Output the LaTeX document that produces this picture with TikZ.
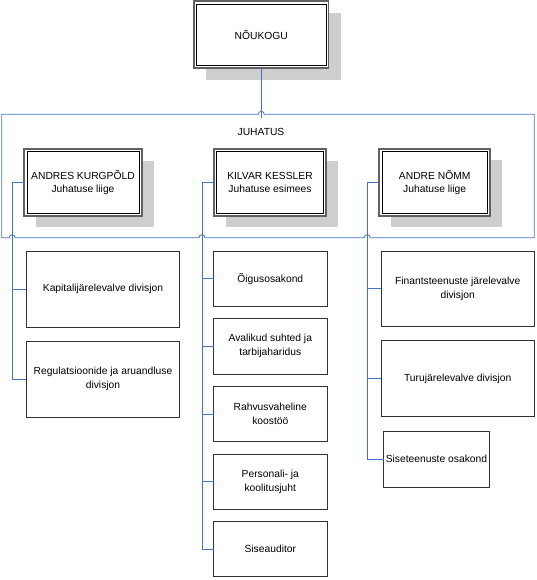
\documentclass[tikz,border=0pt]{standalone}
\usepackage{fontspec}
\setmainfont{Liberation Sans}
\usepackage{tikz}
\usetikzlibrary{positioning, calc, shadows}
\definecolor{linkblue}{RGB}{70,116,196}
\definecolor{shadowgray}{RGB}{206,206,206}
\tikzset{
  brd/.style={rectangle, draw=black!62, fill=white, line width=1.6pt,
    align=center, inner sep=2pt, outer sep=0pt,
    font=\fontsize{10.3}{13.5}\selectfont,
    drop shadow={shadow xshift=12pt, shadow yshift=-11.5pt,
      fill=shadowgray, opacity=1},
    path picture={\draw[black, line width=0.6pt]
      ([shift={(2.6pt,2.6pt)}]path picture bounding box.south west) rectangle
      ([shift={(-2.6pt,-2.6pt)}]path picture bounding box.north east);}},
  mbr/.style={brd, minimum height=66.8pt},
  dept/.style={rectangle, draw=black!80, fill=white, line width=0.8pt,
    align=center, inner sep=2pt, outer sep=0pt,
    font=\fontsize{10.3}{14}\selectfont},
  deptL/.style={dept, minimum width=153.2pt, minimum height=75.8pt},
  deptM/.style={dept, minimum width=113.2pt, minimum height=55.2pt},
  lnk/.style={draw=linkblue, line width=0.8pt},
}

\begin{document}
\begin{tikzpicture}[x=1pt, y=-1pt]
  \useasboundingbox (0,0) rectangle (536,580);

  % board and group
  \node[brd, minimum width=134.4pt, minimum height=67pt] (nk) at (261.3,34.8) {NÕUKOGU};
  \node[draw=none, inner sep=0pt, outer sep=0pt,
        minimum width=532.6pt, minimum height=123.4pt] (grp) at (268,176) {};
  \node[font=\fontsize{10.3}{12}\selectfont] (juh) at (261,132) {JUHATUS};

  % members
  \node[mbr, minimum width=117.5pt] (ak) at (83,182.5)
       {ANDRES KURGPÕLD\\Juhatuse liige};
  \node[mbr, minimum width=112pt] (kk) at (270,182.5)
       {KILVAR KESSLER\\Juhatuse esimees};
  \node[mbr, minimum width=111pt] (an) at (434.7,182.3)
       {ANDRE NÕMM\\Juhatuse liige};

  % left column
  \node[deptL] (kap) at (103,289) {Kapitalijärelevalve divisjon};
  \node[deptL, below=14.5pt of kap] (reg)
       {Regulatsioonide ja aruandluse\\divisjon};

  % middle column
  \node[deptM] (oig) at (270.3,278.7) {Õigusosakond};
  \node[deptM, below=12.4pt of oig] (ava) {Avalikud suhted ja\\tarbijaharidus};
  \node[deptM, below=12.4pt of ava] (rah) {Rahvusvaheline\\koostöö};
  \node[deptM, below=12.4pt of rah] (per) {Personali- ja\\koolitusjuht};
  \node[deptM, below=12.4pt of per] (sis) {Siseauditor};

  % right column
  \node[dept, minimum width=152.5pt, minimum height=75.2pt] (fin) at (457.7,288.7)
       {Finantsteenuste järelevalve\\divisjon};
  \node[dept, minimum width=152.5pt, minimum height=75.2pt, below=14.5pt of fin] (tur)
       {Turujärelevalve divisjon};
  \node[dept, minimum width=103.6pt, minimum height=56.5pt,
        below right=15pt and 2.3pt of tur.south west] (ste)
       {Siseteenuste osakond};

  % trunks
  \coordinate (trA) at ([xshift=-12pt]ak.west);
  \coordinate (trB) at ([xshift=-12pt]kk.west);
  \coordinate (trC) at ([xshift=-12pt]an.west);
  \coordinate (nkEnd) at ($(nk.south |- grp.north)+(0,4)$);

  % group outline with hops
  \draw[lnk] (grp.north west)
    -- ([xshift=-3pt]nk.south |- grp.north) arc[start angle=180, end angle=0, radius=3pt]
    -- (grp.north east) -- (grp.south east)
    -- ([xshift=3pt]trC |- grp.south) arc[start angle=0, end angle=180, radius=3pt]
    -- ([xshift=3pt]trB |- grp.south) arc[start angle=0, end angle=180, radius=3pt]
    -- ([xshift=3pt]trA |- grp.south) arc[start angle=0, end angle=180, radius=3pt]
    -- (grp.south west) -- cycle;

  \draw[lnk] (nk.south) -- (nkEnd);

  \draw[lnk] (ak.west) -- (trA) |- (reg.west);
  \draw[lnk] (trA) |- (kap.west);

  \draw[lnk] (kk.west) -- (trB) |- (sis.west);
  \draw[lnk] (trB) |- (oig.west);
  \draw[lnk] (trB) |- (ava.west);
  \draw[lnk] (trB) |- (rah.west);
  \draw[lnk] (trB) |- (per.west);

  \draw[lnk] (an.west) -- (trC) |- (ste.west);
  \draw[lnk] (trC) |- (fin.west);
  \draw[lnk] (trC) |- (tur.west);
\end{tikzpicture}
\end{document}
